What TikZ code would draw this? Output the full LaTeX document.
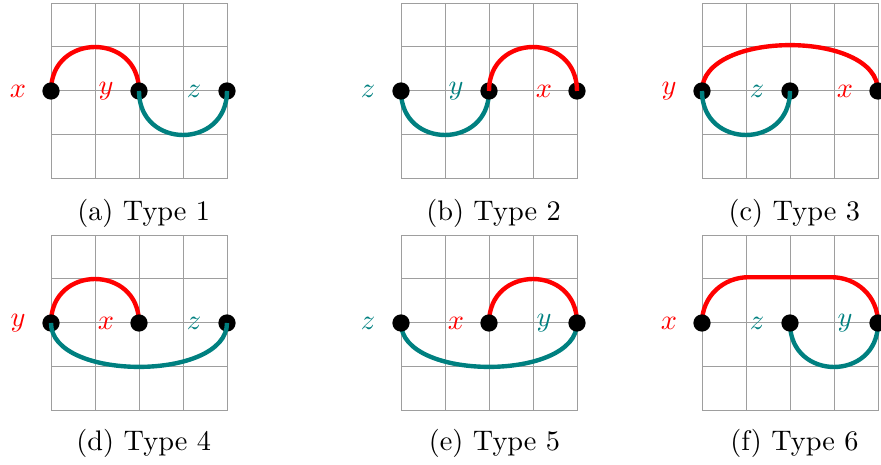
\documentclass[tikz,border=0pt]{standalone}
\tikzset{
  gridln/.style={draw=black!38, line width=0.35pt},
  dotnode/.style={circle, fill=black, inner sep=0pt, minimum size=6.1pt},
  redc/.style={draw=red, line width=1.55pt},
  tealc/.style={draw=teal, line width=1.55pt},
  redlab/.style={text=red},
  teallab/.style={text=teal},
  captext/.style={anchor=base},
  cell/.style={x=15.545pt, y=15.545pt}
}
\newcommand\mygrid{%
  \foreach \i in {0,...,4} {
    \draw[gridln] (\i,-2) -- (\i,2);
    \draw[gridln] (0,\i-2) -- (4,\i-2);
  }}
\begin{document}
\begin{tikzpicture}[x=0.3533pt, y=-0.3533pt]
\useasboundingbox (0,0) rectangle (881,465);

% (a) Type 1
\begin{scope}[shift={(51,91)}, cell]
  \mygrid
  \coordinate (a0) at (0,0); \coordinate (a2) at (2,0); \coordinate (a4) at (4,0);
  \draw[redc] (a0) .. controls +(0,1.333) and +(0,1.333) .. (a2);
  \node[dotnode] (da0) at (a0) {}; \node[dotnode] (da2) at (a2) {}; \node[dotnode] (da4) at (a4) {};
  \draw[tealc] (a2) .. controls +(0,-1.333) and +(0,-1.333) .. (a4);
  \node[redlab] (ax) at (-0.75,0) {$x$};
  \node[redlab] (ay) at (1.25,0) {$y$};
  \node[teallab] (az) at (3.25,0) {$z$};
\end{scope}
\node[captext] (capa) at (143.7,220.7) {(a) Type 1};

% (b) Type 2
\begin{scope}[shift={(401,91)}, cell]
  \mygrid
  \coordinate (b0) at (0,0); \coordinate (b2) at (2,0); \coordinate (b4) at (4,0);
  \draw[tealc] (b0) .. controls +(0,-1.333) and +(0,-1.333) .. (b2);
  \node[dotnode] (db0) at (b0) {}; \node[dotnode] (db2) at (b2) {}; \node[dotnode] (db4) at (b4) {};
  \draw[redc] (b2) .. controls +(0,1.333) and +(0,1.333) .. (b4);
  \node[teallab] (bz) at (-0.75,0) {$z$};
  \node[teallab] (by) at (1.25,0) {$y$};
  \node[redlab] (bx) at (3.25,0) {$x$};
\end{scope}
\node[captext] (capb) at (493.5,220.7) {(b) Type 2};

% (c) Type 3
\begin{scope}[shift={(702,91)}, cell]
  \mygrid
  \coordinate (c0) at (0,0); \coordinate (c2) at (2,0); \coordinate (c4) at (4,0);
  \draw[redc] (c0) .. controls +(0,1.39) and +(0,1.39) .. (c4);
  \node[dotnode] (dc0) at (c0) {}; \node[dotnode] (dc2) at (c2) {}; \node[dotnode] (dc4) at (c4) {};
  \draw[tealc] (c0) .. controls +(0,-1.333) and +(0,-1.333) .. (c2);
  \node[redlab] (cy) at (-0.75,0) {$y$};
  \node[teallab] (cz) at (1.25,0) {$z$};
  \node[redlab] (cx) at (3.25,0) {$x$};
\end{scope}
\node[captext] (capc) at (794.3,220.7) {(c) Type 3};

% (d) Type 4
\begin{scope}[shift={(51,323)}, cell]
  \mygrid
  \coordinate (d0) at (0,0); \coordinate (d2) at (2,0); \coordinate (d4) at (4,0);
  \draw[redc] (d0) .. controls +(0,1.333) and +(0,1.333) .. (d2);
  \node[dotnode] (dd0) at (d0) {}; \node[dotnode] (dd2) at (d2) {}; \node[dotnode] (dd4) at (d4) {};
  \draw[tealc] (d0) .. controls +(0,-1.33) and +(0,-1.33) .. (d4);
  \node[redlab] (dy) at (-0.75,0) {$y$};
  \node[redlab] (dx) at (1.25,0) {$x$};
  \node[teallab] (dz) at (3.25,0) {$z$};
\end{scope}
\node[captext] (capd) at (143.7,450.7) {(d) Type 4};

% (e) Type 5
\begin{scope}[shift={(401,323)}, cell]
  \mygrid
  \coordinate (e0) at (0,0); \coordinate (e2) at (2,0); \coordinate (e4) at (4,0);
  \draw[redc] (e2) .. controls +(0,1.333) and +(0,1.333) .. (e4);
  \draw[tealc] (e0) .. controls +(0,-1.33) and +(0,-1.33) .. (e4);
  \node[dotnode] (de0) at (e0) {}; \node[dotnode] (de2) at (e2) {}; \node[dotnode] (de4) at (e4) {};
  \node[teallab] (ez) at (-0.75,0) {$z$};
  \node[redlab] (ex) at (1.25,0) {$x$};
  \node[teallab] (ey) at (3.25,0) {$y$};
\end{scope}
\node[captext] (cape) at (494.5,450.7) {(e) Type 5};

% (f) Type 6
\begin{scope}[shift={(702,323)}, cell]
  \mygrid
  \coordinate (f0) at (0,0); \coordinate (f2) at (2,0); \coordinate (f4) at (4,0);
  \coordinate (fm1) at (1.05,1.04); \coordinate (fm2) at (2.95,1.04);
  \draw[redc] (f0) .. controls +(0,0.62) and +(-0.55,0) .. (fm1) -- (fm2) .. controls +(0.55,0) and +(0,0.62) .. (f4);
  \draw[tealc] (f2) .. controls +(0,-1.333) and +(0,-1.333) .. (f4);
  \node[dotnode] (df0) at (f0) {}; \node[dotnode] (df2) at (f2) {}; \node[dotnode] (df4) at (f4) {};
  \node[redlab] (fx) at (-0.75,0) {$x$};
  \node[teallab] (fz) at (1.25,0) {$z$};
  \node[teallab] (fy) at (3.25,0) {$y$};
\end{scope}
\node[captext] (capf) at (794.5,450.7) {(f) Type 6};
\end{tikzpicture}
\end{document}
